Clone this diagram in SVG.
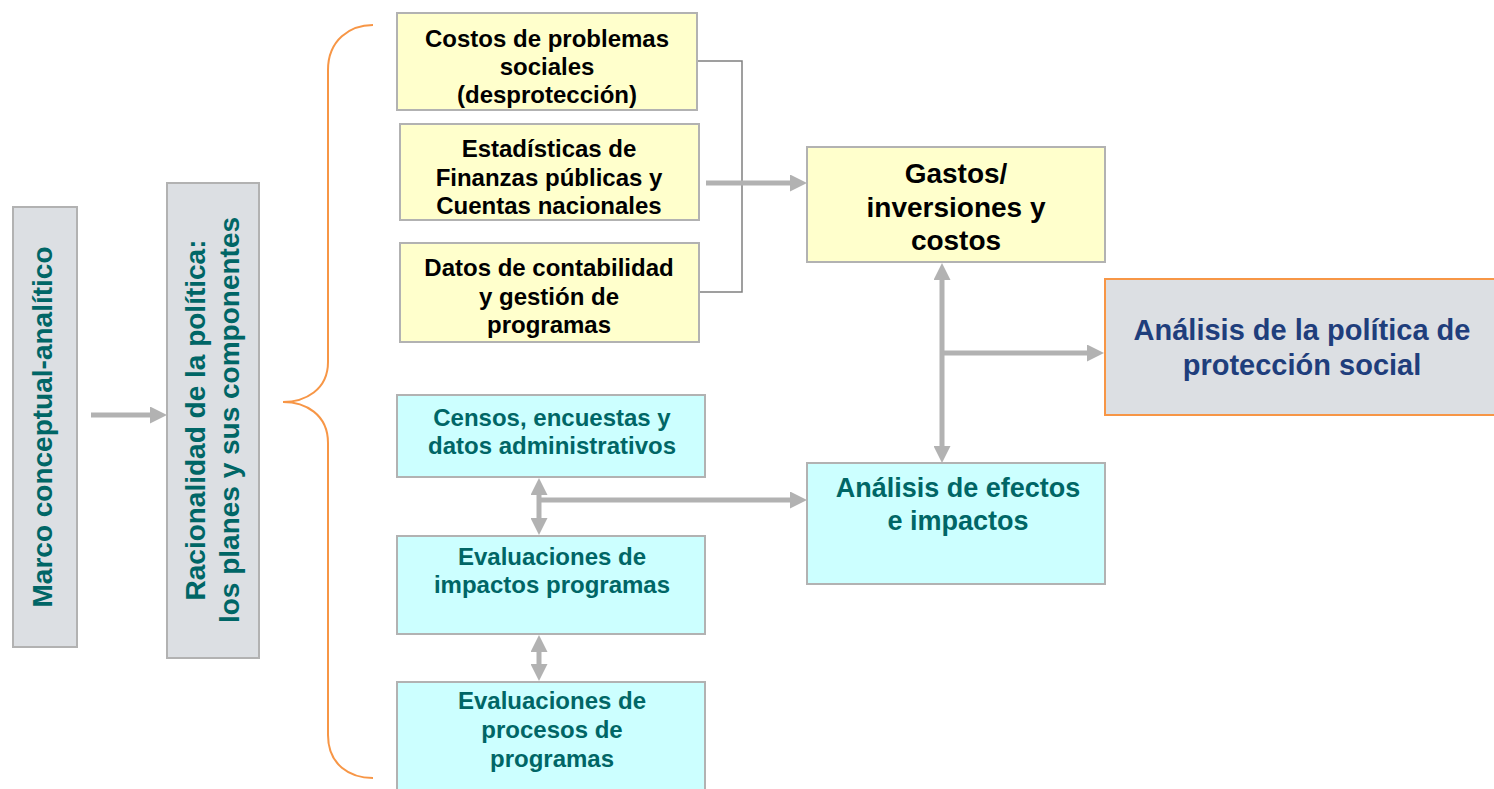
<svg xmlns="http://www.w3.org/2000/svg" width="1494" height="789" viewBox="0 0 1494 789">
<style>
.box{stroke:#b2b2b2;stroke-width:2}
.gray{fill:#dcdfe3}
.yel{fill:#ffffcc}
.cyan{fill:#ccffff}
.t{font-family:"Liberation Sans",Arial,sans-serif;font-weight:bold;text-anchor:middle}
.tk{fill:#000000;font-size:24px}
.tc{fill:#006666;font-size:24px}
.tv{fill:#006666;font-size:28px}
.arr{stroke:#b2b2b2;stroke-width:5;fill:none}
.thin{stroke:#808080;stroke-width:1.5;fill:none}
</style>
<defs>
<marker id="ah" markerUnits="userSpaceOnUse" markerWidth="17" markerHeight="17" refX="9" refY="8.5" orient="auto-start-reverse" viewBox="0 0 17 17">
<path d="M0,0 L17,8.5 L0,17 z" fill="#b2b2b2"/>
</marker>
</defs>
<rect width="1494" height="789" fill="#ffffff"/>

<g id="brace">
<path d="M373,25 C350,25 328,40 328,70 L328,362 C328,390 305,402 283,402 C305,402 328,414 328,443 L328,735 C328,765 350,778 373,778" fill="none" stroke="#f79646" stroke-width="2"/>
</g>

<g id="connectors">
<line class="arr" x1="91" y1="415" x2="159" y2="415" marker-end="url(#ah)"/>
<polyline class="thin" points="697,61 742,61 742,292 699,292"/>
<line class="arr" x1="706" y1="183" x2="799" y2="183" marker-end="url(#ah)"/>
<line class="arr" x1="942" y1="271" x2="942" y2="455" marker-start="url(#ah)" marker-end="url(#ah)"/>
<line class="arr" x1="942" y1="353" x2="1096" y2="353" marker-end="url(#ah)"/>
<line class="arr" x1="539" y1="486" x2="539" y2="527" marker-start="url(#ah)" marker-end="url(#ah)"/>
<line class="arr" x1="539" y1="500" x2="799" y2="500" marker-end="url(#ah)"/>
<line class="arr" x1="539" y1="643" x2="539" y2="673" marker-start="url(#ah)" marker-end="url(#ah)"/>
</g>

<g id="marco">
<rect class="box gray" x="13" y="207" width="64" height="440"/>
<text class="t tv" transform="translate(52,427) rotate(-90)" x="0" y="0">Marco conceptual-analítico</text>
</g>

<g id="racionalidad">
<rect class="box gray" x="167" y="183" width="92" height="475"/>
<text class="t tv" transform="translate(205,420) rotate(-90)"><tspan x="0" y="0">Racionalidad de la política:</tspan><tspan x="0" y="33.5">los planes y sus componentes</tspan></text>
</g>

<g id="costos">
<rect class="box yel" x="397" y="13" width="300" height="97"/>
<text class="t tk"><tspan x="547" y="47">Costos de problemas</tspan><tspan x="547" y="75">sociales</tspan><tspan x="547" y="103">(desprotección)</tspan></text>
</g>

<g id="estadisticas">
<rect class="box yel" x="400" y="124" width="299" height="96"/>
<text class="t tk"><tspan x="549" y="157">Estadísticas de</tspan><tspan x="549" y="185.5">Finanzas públicas y</tspan><tspan x="549" y="214">Cuentas nacionales</tspan></text>
</g>

<g id="datos">
<rect class="box yel" x="400" y="243" width="299" height="99"/>
<text class="t tk"><tspan x="549" y="276">Datos de contabilidad</tspan><tspan x="549" y="304.5">y gestión de</tspan><tspan x="549" y="333">programas</tspan></text>
</g>

<g id="gastos">
<rect class="box yel" x="807" y="147" width="298" height="115"/>
<text class="t" style="font-size:28px;fill:#000000"><tspan x="956" y="183">Gastos/</tspan><tspan x="956" y="216.5">inversiones y</tspan><tspan x="956" y="250">costos</tspan></text>
</g>

<g id="politica">
<rect x="1105" y="279" width="400" height="136" fill="#dcdfe3" stroke="#f79646" stroke-width="2"/>
<text class="t" style="font-size:29px;fill:#1f3e7c"><tspan x="1302" y="340">Análisis de la política de</tspan><tspan x="1302" y="375">protección social</tspan></text>
</g>

<g id="efectos">
<rect class="box cyan" x="807" y="463" width="298" height="121"/>
<text class="t" style="font-size:27px;fill:#006666"><tspan x="958" y="497">Análisis de efectos</tspan><tspan x="958" y="530">e impactos</tspan></text>
</g>

<g id="censos">
<rect class="box cyan" x="397" y="395" width="308" height="82"/>
<text class="t tc"><tspan x="552" y="426">Censos, encuestas y</tspan><tspan x="552" y="454">datos administrativos</tspan></text>
</g>

<g id="eval-impactos">
<rect class="box cyan" x="397" y="536" width="308" height="98"/>
<text class="t tc"><tspan x="552" y="565">Evaluaciones de</tspan><tspan x="552" y="593">impactos programas</tspan></text>
</g>

<g id="eval-procesos">
<rect class="box cyan" x="397" y="682" width="308" height="120"/>
<text class="t tc"><tspan x="552" y="709">Evaluaciones de</tspan><tspan x="552" y="738">procesos de</tspan><tspan x="552" y="767">programas</tspan></text>
</g>
</svg>
